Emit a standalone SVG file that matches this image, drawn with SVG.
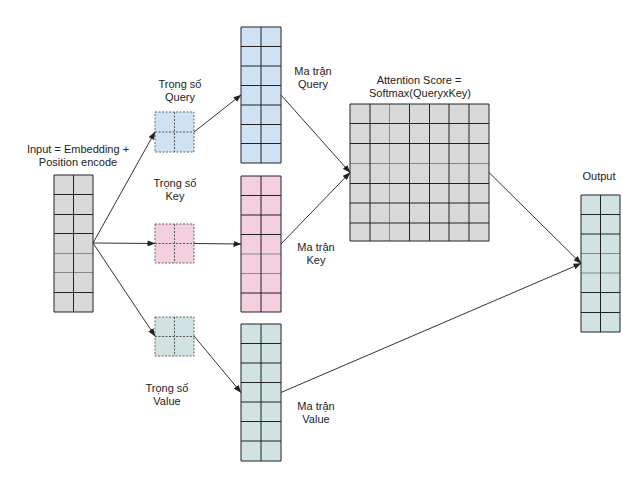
<svg xmlns="http://www.w3.org/2000/svg" width="623" height="484" viewBox="0 0 623 484">
  <style>
    .lbl { font-family: "Liberation Sans", Arial, sans-serif; font-size: 11px; fill: #222; text-anchor: middle; }
    .grid { fill: none; stroke: #222; stroke-width: 1; }
    .soft { fill: none; stroke: #8a8a8a; stroke-width: 1; }
    .w { stroke: #666; stroke-width: 1; stroke-dasharray: 2 1.5; }
    .wl { fill: none; stroke: #555; stroke-width: 1; stroke-dasharray: 2 1.5; }
    .gray { fill: #d9d9d9; }
    .blue { fill: #cfe2f3; }
    .pink { fill: #f3cfe0; }
    .teal { fill: #d0e3e2; }
    .conn { fill: none; stroke: #333; stroke-width: 1; }
  </style>
  <defs>
    <marker id="arr" markerWidth="8" markerHeight="6" refX="7.5" refY="3" orient="auto" markerUnits="userSpaceOnUse">
      <path d="M0,0 L8,3 L0,6 z" fill="#222"/>
    </marker>
  </defs>
  <rect width="623" height="484" fill="#ffffff"/>

  <!-- input matrix -->
  <g id="input">
    <rect x="54" y="175" width="39" height="137" class="gray"/>
    <path class="soft" d="M54,253.5 H93 M54,272.5 H93"/>
    <path class="grid" d="M54,175 H93 V312 H54 Z M73.5,175 V312 M54,194.5 H93 M54,214.5 H93 M54,233.5 H93 M54,292.5 H93"/>
    <text class="lbl" x="78" y="153">Input = Embedding +</text>
    <text class="lbl" x="78" y="166">Position encode</text>
  </g>

  <!-- weight matrices -->
  <g id="w-query">
    <rect x="155" y="112" width="39" height="40" class="blue w"/>
    <path class="wl" d="M174.5,112 V152 M155,132 H194"/>
    <text class="lbl" x="180" y="88">Trọng số</text>
    <text class="lbl" x="180" y="101">Query</text>
  </g>
  <g id="w-key">
    <rect x="155" y="224" width="39" height="39" class="pink w"/>
    <path class="wl" d="M174.5,224 V263 M155,243.5 H194"/>
    <text class="lbl" x="175" y="187">Trọng số</text>
    <text class="lbl" x="175" y="200">Key</text>
  </g>
  <g id="w-value">
    <rect x="155" y="317" width="39" height="39" class="teal w"/>
    <path class="wl" d="M174.5,317 V356 M155,336.5 H194"/>
    <text class="lbl" x="167" y="392">Trọng số</text>
    <text class="lbl" x="167" y="405">Value</text>
  </g>

  <!-- projected matrices -->
  <g id="m-query">
    <rect x="241" y="27" width="40" height="136" class="blue"/>
    <path class="grid" d="M241,27 H281 V163 H241 Z M261,27 V163 M241,46.5 H281 M241,66 H281 M241,85.5 H281 M241,105 H281 M241,124.5 H281 M241,143.5 H281"/>
    <text class="lbl" x="313" y="75">Ma trận</text>
    <text class="lbl" x="313" y="88">Query</text>
  </g>
  <g id="m-key">
    <rect x="241" y="176" width="40" height="136" class="pink"/>
    <path class="soft" d="M241,254 H281 M241,273.5 H281"/>
    <path class="grid" d="M241,176 H281 V312 H241 Z M261,176 V312 M241,195.5 H281 M241,215 H281 M241,234.5 H281 M241,293 H281"/>
    <text class="lbl" x="316" y="251">Ma trận</text>
    <text class="lbl" x="316" y="264">Key</text>
  </g>
  <g id="m-value">
    <rect x="241" y="324" width="40" height="137" class="teal"/>
    <path class="grid" d="M241,324 H281 V461 H241 Z M261,324 V461 M241,343.5 H281 M241,363 H281 M241,382.5 H281 M241,402 H281 M241,421.5 H281 M241,441 H281"/>
    <text class="lbl" x="316" y="410">Ma trận</text>
    <text class="lbl" x="316" y="423">Value</text>
  </g>

  <!-- attention score matrix -->
  <g id="attention">
    <rect x="350" y="104" width="139" height="137" class="gray"/>
    <path class="soft" d="M350,163.5 H489 M389.5,104 V241"/>
    <path class="grid" d="M350,104 H489 V241 H350 Z M370,104 V241 M409.5,104 V241 M429.5,104 V241 M449,104 V241 M469,104 V241 M350,123.5 H489 M350,143.5 H489 M350,183.5 H489 M350,203 H489 M350,223 H489"/>
    <text class="lbl" x="419" y="84">Attention Score =</text>
    <text class="lbl" x="420" y="97">Softmax(QueryxKey)</text>
  </g>

  <!-- output matrix -->
  <g id="output">
    <rect x="581" y="195" width="39" height="137" class="teal"/>
    <path class="soft" d="M581,253.5 H620 M581,273 H620"/>
    <path class="grid" d="M581,195 H620 V332 H581 Z M600.5,195 V332 M581,214.5 H620 M581,234 H620 M581,292.5 H620 M581,312.5 H620"/>
    <text class="lbl" x="599" y="180">Output</text>
  </g>

  <!-- connectors -->
  <g id="connectors" class="conn">
    <path d="M93,243 L155,132" marker-end="url(#arr)"/>
    <path d="M93,243 L155,243.5" marker-end="url(#arr)"/>
    <path d="M93,243 L155,336" marker-end="url(#arr)"/>
    <path d="M194,132 L241,95" marker-end="url(#arr)"/>
    <path d="M194,243.5 L241,244" marker-end="url(#arr)"/>
    <path d="M194,336 L241,392.5" marker-end="url(#arr)"/>
    <path d="M281,95 L350,172.5" marker-end="url(#arr)"/>
    <path d="M281,244 L350,172.5" marker-end="url(#arr)"/>
    <path d="M489,172.5 L581,263.5" marker-end="url(#arr)"/>
    <path d="M281,392.5 L581,263.5" marker-end="url(#arr)"/>
  </g>
</svg>
